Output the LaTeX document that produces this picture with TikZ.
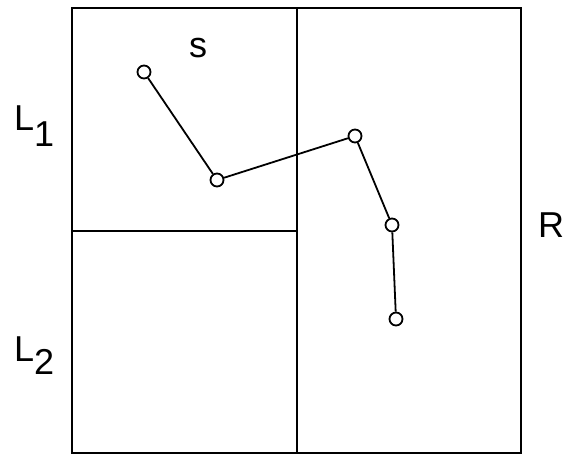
\documentclass[tikz,border=0pt]{standalone}
\usepackage{fontspec}
\setmainfont{Liberation Sans}
\begin{document}
\begin{tikzpicture}[x=1pt,y=-1pt,
  vtx/.style={circle,draw,line width=1.8pt,fill=white,minimum size=13pt,inner sep=0pt},
  edge/.style={line width=1.8pt},
  frame/.style={line width=1.8pt},
  lbl/.style={font=\fontsize{36}{42}\selectfont,inner sep=0pt,anchor=base west}]
\useasboundingbox (0,0) rectangle (577,457);
\draw[frame] (72,8) rectangle (521,453);
\draw[frame] (297,8) -- (297,453);
\draw[frame] (72,231) -- (297,231);
\node[vtx] (a) at (144,72) {};
\node[vtx] (b) at (217,180) {};
\node[vtx] (c) at (355,136) {};
\node[vtx] (d) at (392,225) {};
\node[vtx] (e) at (396,319) {};
\draw[edge] (a) -- (b) -- (c) -- (d) -- (e);
\node[lbl] (s) at (189,58) {s};
\node[lbl] (l1) at (14,131) {L\raisebox{-16pt}{1}};
\node[lbl] (l2) at (14,361) {L\raisebox{-13pt}{2}};
\node[lbl] (r) at (538,237) {R};
\end{tikzpicture}
\end{document}
